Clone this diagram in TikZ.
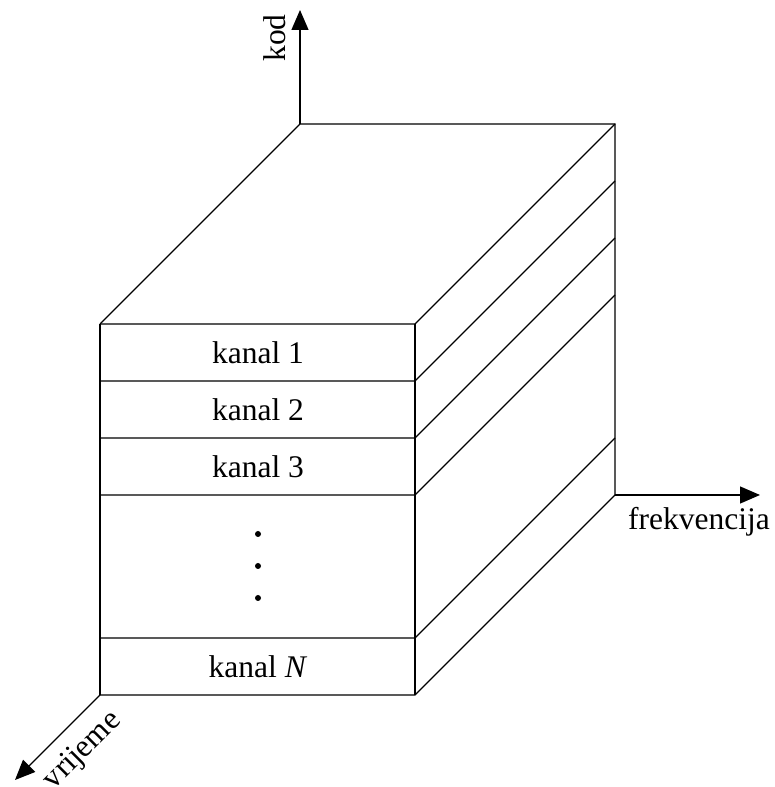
\documentclass[tikz,border=0pt]{standalone}
\usepackage{fontspec}
\setmainfont{Liberation Serif}
\usetikzlibrary{arrows.meta}

\begin{document}
\begin{tikzpicture}[x = 100pt, y = 100pt, font = \fontsize{31.5}{36}\selectfont]
	\tikzstyle{BoxStyle} = [line width = 1.3pt, line join = miter]
	\tikzstyle{AxisStyle} = [line width = 1.3pt, -{Triangle[length = 20pt, width = 17pt]}]
	\tikzstyle{kanalStyle} = [inner sep = 0pt]
	\tikzstyle{dotStyle} = [shape = circle, fill, inner sep = 0pt, minimum size = 6pt]
	\useasboundingbox (0,0) rectangle (7.74,7.87);
	\coordinate (topBL) at (3.00,6.63);
	\coordinate (topBR) at (6.15,6.63);
	\coordinate (frontTL) at (1.00,4.63);
	\coordinate (frontBL) at (1.00,0.92);
	\coordinate (backBR) at (6.15,2.92);
	\coordinate (kodEnd) at (3.00,7.77);
	\coordinate (frekEnd) at (7.60,2.92);
	\coordinate (vrijEnd) at (0.15,0.07);
	% box
	\draw[BoxStyle] (frontTL) -- (topBL) -- (topBR) -- (backBR);
	\draw[BoxStyle] (frontTL) -- (frontBL);
	\foreach \y in {4.63, 4.06, 3.49, 2.92, 1.49, 0.92}
		\draw[BoxStyle] (1.00,\y) -- (4.15,\y) -- ++(2.00,2.00);
	\draw[BoxStyle] (4.15,4.63) -- (4.15,0.92);
	% axes
	\draw[AxisStyle] (topBL) -- (kodEnd);
	\draw[AxisStyle] (backBR) -- (frekEnd);
	\draw[AxisStyle] (frontBL) -- (vrijEnd);
	\node[kanalStyle, rotate = 90, anchor = base] (kod) at (2.85,7.49) {kod};
	\node[kanalStyle, anchor = base] (frek) at (6.99,2.57) {frekvencija};
	\node[kanalStyle, rotate = 45] (vrij) at (0.83,0.36) {vrijeme};
	% channels
	\node[kanalStyle] (k1) at (2.58,4.345) {kanal 1};
	\node[kanalStyle] (k2) at (2.58,3.775) {kanal 2};
	\node[kanalStyle] (k3) at (2.58,3.205) {kanal 3};
	\node[kanalStyle] (kN) at (2.58,1.205) {kanal \textit{N}};
	\foreach \y [count = \i] in {2.53, 2.21, 1.89}
		\node[dotStyle] (d\i) at (2.58,\y) {};
\end{tikzpicture}
\end{document}
